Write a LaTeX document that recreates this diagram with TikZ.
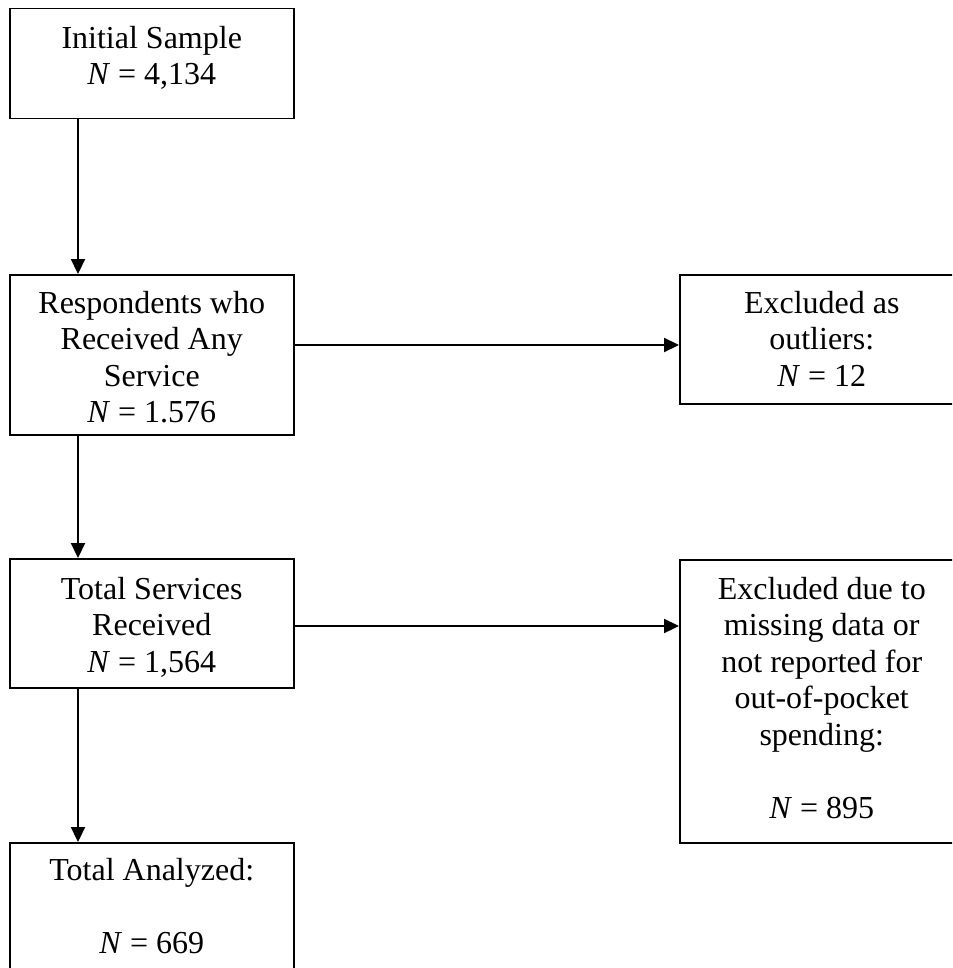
\documentclass[tikz,border=0pt]{standalone}
\usepackage{fontspec}
\setmainfont{Liberation Serif}
\usetikzlibrary{arrows.meta,calc}
\begin{document}
\begin{tikzpicture}[x=1pt,y=-1pt,
  box/.style={draw=black, line width=1.5pt, rectangle, anchor=north west, inner sep=0pt, minimum width=284pt},
  label/.style={anchor=north, align=center, inner sep=0pt, font=\fontsize{32}{36.5}\selectfont},
  flow/.style={line width=2.2pt, -{Triangle[length=15pt,width=14pt]}}]
\useasboundingbox (0,0) rectangle (952,968);
\clip (0,0) rectangle (952,968);
\fill[white] (0,0) rectangle (952,968);
% boxes
\node[box, minimum height=110pt] (b1) at (9,8) {};
\node[box, minimum height=160pt] (b2) at (9,274) {};
\node[box, minimum height=129pt] (b3) at (679,274) {};
\node[box, minimum height=129pt] (b4) at (9,558) {};
\node[box, minimum height=283pt] (b5) at (679,559) {};
\node[box, minimum height=145pt] (b6) at (9,842) {};
% texts (first baseline = top + offset; strut height 25.55pt)
\node[label] (t1) at ($(b1.north)+(0,40-25.55)$) {\strut Initial Sample\\\textit{N} = 4,134};
\node[label] (t2) at ($(b2.north)+(0,39-25.55)$) {\strut Respondents who\\Received Any\\Service\\\textit{N} = 1.576};
\node[label] (t3) at ($(b3.north)+(0,39-25.55)$) {\strut Excluded as\\outliers:\\\textit{N} = 12};
\node[label] (t4) at ($(b4.north)+(0,41-25.55)$) {\strut Total Services\\Received\\\textit{N} = 1,564};
\node[label] (t5) at ($(b5.north)+(0,40-25.55)$) {\strut Excluded due to\\missing data or\\not reported for\\out-of-pocket\\spending:\\[36.5pt]\textit{N} = 895};
\node[label] (t6) at ($(b6.north)+(0,38-25.55)$) {\strut Total Analyzed:\\[36.5pt]\textit{N} = 669};
% connectors
\draw[flow] ($(b1.south west)+(69,0)$) -- ($(b2.north west)+(69,0)$);
\draw[flow] ($(b2.south west)+(69,0)$) -- ($(b4.north west)+(69,0)$);
\draw[flow] ($(b4.south west)+(69,0)$) -- ($(b6.north west)+(69,0)$);
\draw[flow] ($(b2.north east)+(0,71)$) -- ($(b3.north west)+(0,71)$);
\draw[flow] ($(b4.north east)+(0,68)$) -- ($(b5.north west)+(0,67)$);
\end{tikzpicture}
\end{document}
